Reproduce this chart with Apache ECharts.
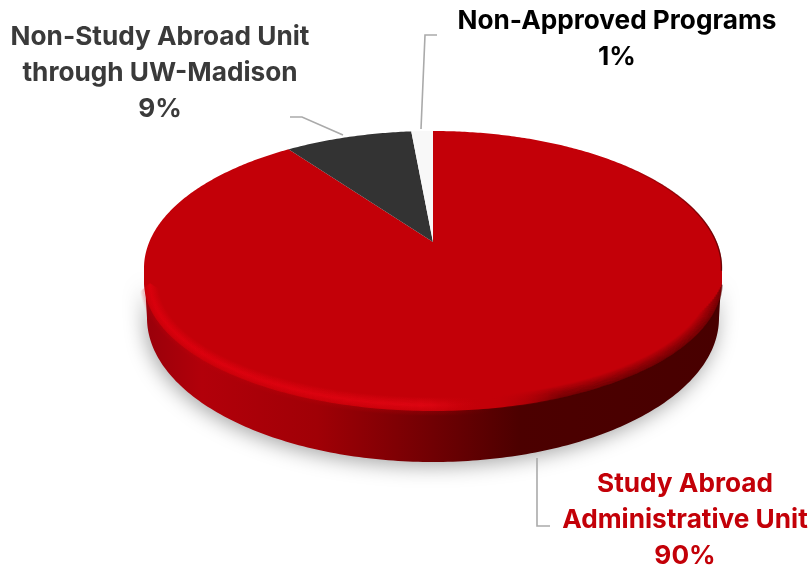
<!DOCTYPE html>
<html>
<head>
<meta charset="utf-8">
<style>
  html, body { margin: 0; padding: 0; background: #fff; }
  #chart { width: 811px; height: 567px; }
</style>
<script src="https://cdn.jsdelivr.net/npm/echarts@6/dist/echarts.min.js"></script>
</head>
<body>
<div id="chart"></div>
<script>
// clockwise from 12 o'clock. labels say 90/9/1, slices read a bit different
var categories = ['Study Abroad\nAdministrative Unit', 'Non-Study Abroad Unit\nthrough UW-Madison', 'Non-Approved Programs']
var values = [90, 8.55, 1.45]
var sliceColors = ['#c30008', '#333333', '#f8f8f8']
var labelColors = ['#c30008', '#3a3a3a', '#000000']

// layout of the 3d disc
var top_ = { cx: 433, cy: 268, rx: 289, ry: 137 }
var lip = { cx: 433, cy: 282, rx: 289, ry: 129 } // front edge of the top face is fuller than the back
var bottom_ = { cx: 433, cy: 318, rx: 286, ry: 144 }
var tilt = 0.19 // how far the pie centre sits behind the ellipse centre
var labelPos = [[685, 520], [160, 73], [617, 39.5]]
var leaderLines = [
  [[537, 458], [537, 526], [550, 526]],
  [[343, 135], [302, 117], [290, 117]],
  [[421, 129], [425, 35], [437, 35]]
]
var font = '700 26.2px Inter, "Noto Sans", sans-serif'

var total = values.reduce(function (a, b) { return a + b }, 0)

// angle on the real circle -> point on the tilted ellipse
function rimPoint(angle) {
  var s = Math.sin(angle)
  var c = Math.cos(angle)
  var d = 1 + tilt * c
  var u = Math.sqrt(1 - tilt * tilt) * s / d
  var v = (c + tilt) / d
  return [top_.cx + top_.rx * u, top_.cy - top_.ry * v]
}

function ellipseArc(e, from, to, inset) {
  var pts = []
  var steps = 180
  for (var i = 0; i <= steps; i++) {
    var t = from + (to - from) * i / steps
    pts.push([e.cx + (e.rx - inset) * Math.cos(t), e.cy + (e.ry - inset) * Math.sin(t)])
  }
  return pts
}

function renderWall() {
  var pts = ellipseArc(top_, 0, Math.PI, 0).concat(ellipseArc(bottom_, Math.PI, 0, 0))
  return {
    type: 'polygon',
    shape: { points: pts },
    style: {
      fill: new echarts.graphic.LinearGradient(0, 0, 1, 0, [
        { offset: 0, color: '#98000a' },
        { offset: 0.1, color: '#b2000a' },
        { offset: 0.3, color: '#a00006' },
        { offset: 0.5, color: '#700003' },
        { offset: 0.65, color: '#4c0000' },
        { offset: 1, color: '#480000' }
      ]),
      shadowBlur: 20,
      shadowColor: 'rgba(0,0,0,0.35)',
      shadowOffsetX: -2,
      shadowOffsetY: 4
    }
  }
}

function renderSlice(params, api) {
  var i = params.dataIndex
  var before = 0
  for (var k = 0; k < i; k++) before += values[k]
  var a0 = before / total * Math.PI * 2
  var a1 = (before + api.value(0)) / total * Math.PI * 2
  var pts = [[top_.cx, top_.cy - top_.ry * tilt]]
  var n = Math.max(4, Math.ceil((a1 - a0) * 90))
  for (var j = 0; j <= n; j++) {
    pts.push(rimPoint(a0 + (a1 - a0) * j / n))
  }
  var pct = Math.round(api.value(0) / total * 100)
  return {
    type: 'group',
    children: [
      {
        type: 'polygon',
        shape: { points: pts },
        style: { fill: sliceColors[i] }
      },
      {
        type: 'polyline',
        shape: { points: leaderLines[i] },
        style: { stroke: '#aaaaaa', lineWidth: 1.6, fill: 'none' }
      },
      {
        type: 'text',
        x: labelPos[i][0],
        y: labelPos[i][1],
        style: {
          text: categories[i] + '\n' + pct + '%',
          font: font,
          lineHeight: 36,
          fill: labelColors[i],
          align: 'center',
          verticalAlign: 'middle'
        }
      }
    ]
  }
}

// soft bevel along the front rim, stacked thin strokes
function renderBevel() {
  var lipPts = ellipseArc(lip, 0, Math.PI, 0)
  lipPts.push([top_.cx - top_.rx, top_.cy], [top_.cx + top_.rx, top_.cy])
  var layers = [{
    type: 'polygon',
    shape: { points: lipPts },
    style: { fill: sliceColors[0] }
  }, {
    // thin dark fringe on the back right edge
    type: 'polyline',
    shape: { points: ellipseArc(top_, -0.9, 0.02, 0.5) },
    style: {
      fill: 'none',
      lineWidth: 1.4,
      stroke: new echarts.graphic.LinearGradient(0, 0, 1, 0, [
        { offset: 0, color: 'rgba(72,0,0,0)' },
        { offset: 1, color: 'rgba(72,0,0,0.7)' }
      ])
    }
  }]
  for (var d = -4; d < 16; d++) {
    var bright = d < 0 ? 0 : Math.max(0, 0.36 * (1 - Math.abs(d - 6) / 8))
    var dark = d < 0 ? 0 : Math.max(0, 0.5 * (1 - d / 13))
    var start = 0.02 + Math.max(d, 0) * 0.02
    var end = Math.PI - 0.01 - Math.abs(d - 6) * 0.006
    var stops = [
      { offset: 0, color: 'rgba(240,0,16,' + bright + ')' },
      { offset: 0.5, color: 'rgba(245,10,26,' + bright + ')' },
      { offset: 0.6, color: 'rgba(195,0,8,0)' },
      { offset: 0.72, color: 'rgba(72,0,0,' + dark + ')' },
      { offset: 1, color: 'rgba(72,0,0,' + dark + ')' }
    ]
    if (d < 0) {
      // blends the lip down into the lit part of the wall
      var a = 0.16 * (5 + d) / 4
      stops = [
        { offset: 0, color: 'rgba(195,0,8,' + a + ')' },
        { offset: 0.5, color: 'rgba(195,0,8,' + a + ')' },
        { offset: 0.6, color: 'rgba(195,0,8,0)' },
        { offset: 1, color: 'rgba(195,0,8,0)' }
      ]
    }
    layers.push({
      type: 'polyline',
      shape: { points: ellipseArc(lip, start, end, d) },
      style: {
        fill: 'none',
        lineWidth: 1.6,
        stroke: new echarts.graphic.LinearGradient(0, 0, 1, 0, stops)
      }
    })
  }
  return { type: 'group', children: layers }
}

var chart = echarts.init(document.getElementById('chart'))
chart.setOption({
  animation: false,
  backgroundColor: '#ffffff',
  series: [
    {
      type: 'custom',
      coordinateSystem: 'none',
      z: 1,
      data: [total],
      renderItem: renderWall
    },
    {
      type: 'custom',
      coordinateSystem: 'none',
      z: 2,
      data: values.map(function (v, i) { return { value: [v], name: categories[i] } }),
      renderItem: renderSlice
    },
    {
      type: 'custom',
      coordinateSystem: 'none',
      z: 3,
      data: [total],
      renderItem: renderBevel
    }
  ]
})
</script>
</body>
</html>
